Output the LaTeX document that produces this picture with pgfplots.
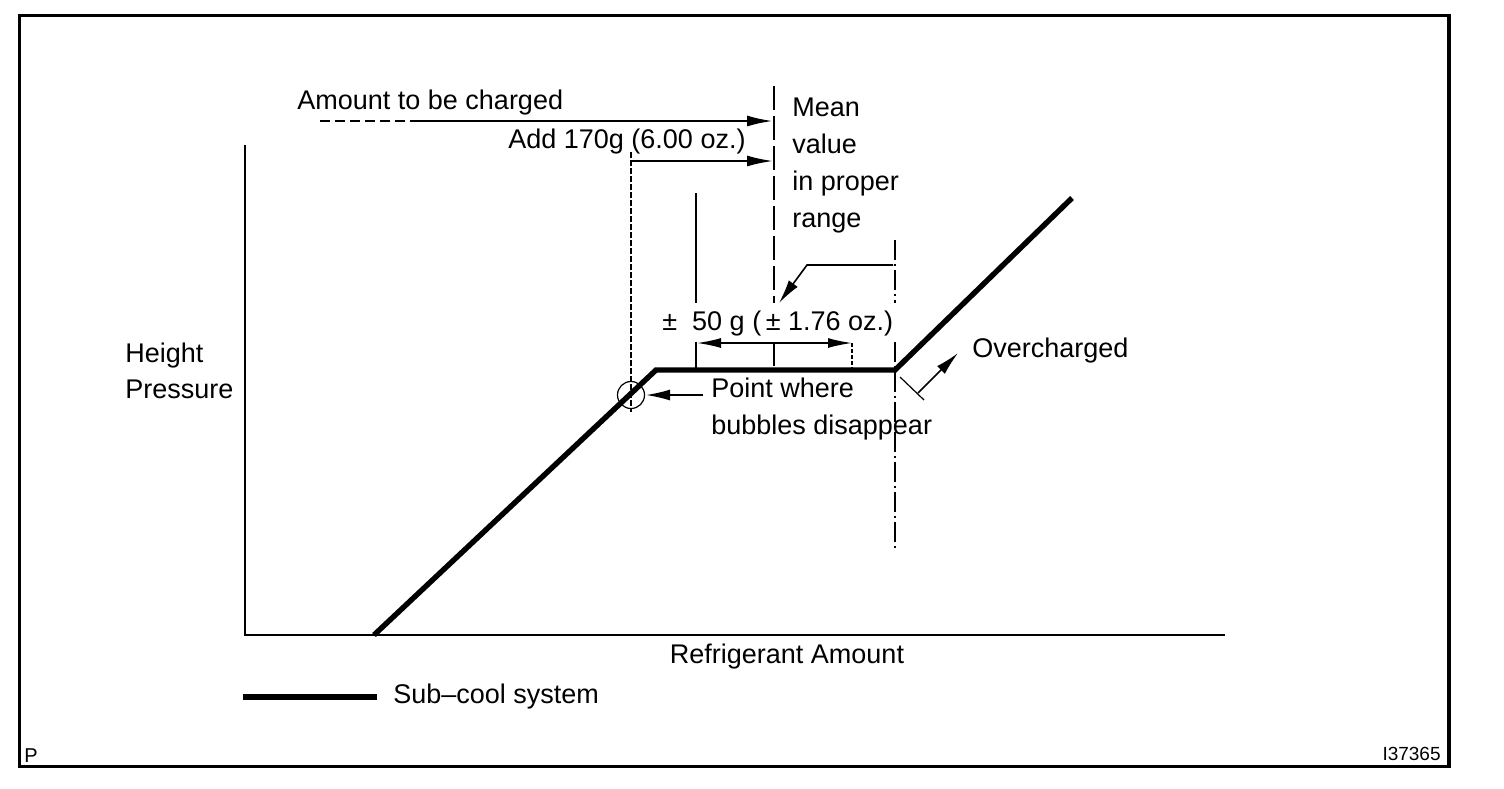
\documentclass[border=0pt]{standalone}
\usepackage{pgfplots}
\pgfplotsset{compat=1.18}
\usepackage{fontspec}
\setmainfont{Liberation Sans}
\usetikzlibrary{arrows.meta}
\begin{document}
\fontsize{13.5}{18}\selectfont
\begin{tikzpicture}
\begin{axis}[scale only axis, width=752pt, height=394pt,
  xmin=0, xmax=1504, ymin=0, ymax=788, y dir=reverse,
  hide axis, clip=false,
  every axis plot/.append style={black, mark=none},
  nodes={inner sep=0pt, font=\fontsize{13.5}{18}\selectfont}]
\path (axis cs:0,0) rectangle (axis cs:1504,788);
% frame
\addplot[line width=1.75pt] coordinates {(700,15.5)(1449,15.5)(1449,766.5)(19.5,766.5)(19.5,15.5)(701,15.5)};
% axes
\addplot[line width=1pt] coordinates {(245,145)(245,635)(1225,635)};
% curve
\addplot[line width=2.7pt] coordinates {(374,635)(656,370)(895,370)(1072,198)};
% legend line
\addplot[line width=2.7pt] coordinates {(243,697)(377,697)};
% amount to be charged arrow
\addplot[line width=1pt, dash pattern=on 5pt off 2.5pt] coordinates {(320,121)(413,121)};
\addplot[line width=1.2pt, -{Latex[length=13pt,width=5.5pt]}] coordinates {(413,121)(773,121)};
% add 170 g arrow
\addplot[line width=1pt, -{Latex[length=13pt,width=5.5pt]}] coordinates {(631,161)(773,161)};
% vertical at 631
\addplot[line width=0.6pt, dash pattern=on 3pt off 1pt] coordinates {(631,152)(631,412)};
% mean line
\addplot[line width=0.6pt, dash pattern=on 12pt off 3pt] coordinates {(774,86)(774,303)};
\addplot[line width=0.6pt, dash pattern=on 12pt off 3pt] coordinates {(774,342)(774,370)};
% line at 696
\addplot[line width=0.6pt] coordinates {(696,193)(696,303)};
\addplot[line width=0.6pt] coordinates {(696,342)(696,370)};
% line at 852
\addplot[line width=0.6pt, dash pattern=on 2pt off 1pt] coordinates {(852,343)(852,370)};
% dimension arrow
\addplot[line width=0.8pt, {Latex[length=12pt,width=5pt]}-{Latex[length=12pt,width=5pt]}] coordinates {(697,343)(852,343)};
% vertical at 895
\addplot[line width=0.6pt, dash pattern=on 10pt off 2pt on 1pt off 2pt] coordinates {(895,240)(895,303)};
\addplot[line width=0.6pt, dash pattern=on 10pt off 2pt on 1pt off 2pt] coordinates {(895,342)(895,550)};
% leader to mean
\addplot[line width=0.8pt, -{Latex[length=12pt,width=5.5pt]}] coordinates {(893,265)(807,265)(779,303)};
% circle
\addplot[only marks, mark=o, mark size=6.75pt, mark options={line width=0.6pt}] coordinates {(631,395)};
% point where arrow
\addplot[line width=0.8pt, -{Latex[length=12pt,width=5.5pt]}] coordinates {(703,395)(646,395)};
% overcharged arrow and tick
\addplot[line width=0.8pt, -{Latex[length=12pt,width=5.5pt]}] coordinates {(918,393)(958,353)};
\addplot[line width=0.6pt] coordinates {(900,377)(924,400)};
% texts
\node[anchor=base west] at (axis cs:125,362) {Height};
\node[anchor=base west] at (axis cs:125,398) {Pressure};
\node[anchor=base] at (axis cs:787,663) {Refrigerant Amount};
\node[anchor=base west] at (axis cs:393,703) {Sub–cool system};
\node[anchor=base west] at (axis cs:297,109) {Amount to be charged};
\node[anchor=base west] at (axis cs:508,148) {Add 170g (6.00 oz.)};
\node[anchor=base west] at (axis cs:792,116) {Mean};
\node[anchor=base west] at (axis cs:792,153) {value};
\node[anchor=base west] at (axis cs:792,190) {in proper};
\node[anchor=base west] at (axis cs:792,227) {range};
\node[anchor=base west] at (axis cs:662,330) {±\ \ 50 g (\,±\ 1.76 oz.)};
\node[anchor=base west] at (axis cs:711,397) {Point where};
\node[anchor=base west] at (axis cs:711,434) {bubbles disappear};
\node[anchor=base west] at (axis cs:972,357) {Overcharged};
\node[anchor=base west, font=\fontsize{10}{11}\selectfont] at (axis cs:24,762) {P};
\node[anchor=base east, font=\fontsize{9.5}{11}\selectfont] at (axis cs:1441,760) {I37365};
\end{axis}
\end{tikzpicture}
\end{document}
